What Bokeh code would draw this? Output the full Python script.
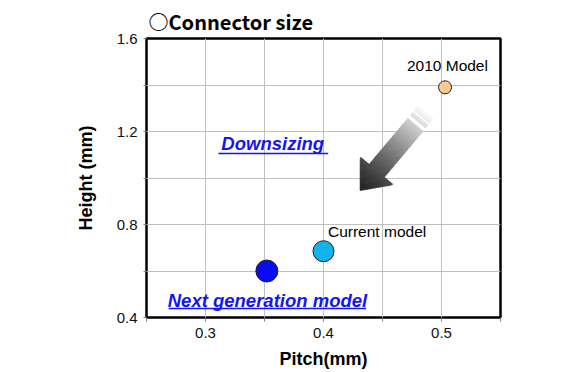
from bokeh.plotting import figure
from bokeh.models import FixedTicker, Title, Label
from bokeh.embed import file_html
from bokeh.resources import INLINE

# ---- data ----
models = ["2010 Model", "Current model", "Next generation model"]
pitch = [0.503, 0.40, 0.352]
height = [1.39, 0.685, 0.60]
marker_sizes = [13, 21, 22]
marker_colors = ["#FFC891", "#12B2EC", "#0A0AF5"]

x_major = [0.3, 0.4, 0.5]
x_minor = [0.25, 0.35, 0.45, 0.55]
y_major = [0.4, 0.8, 1.2, 1.6]
y_minor = [0.6, 1.0, 1.4]

X_RANGE = (0.25, 0.55)
Y_RANGE = (0.4, 1.6)
FW, FH = 354, 279
FONT = "Liberation Sans"

p = figure(frame_width=FW, frame_height=FH, x_range=X_RANGE, y_range=Y_RANGE,
           output_backend="svg", toolbar_location=None,
           min_border_left=146, min_border_right=74,
           min_border_top=38, min_border_bottom=54)
p.background_fill_color = "white"
p.border_fill_color = "white"
p.outline_line_color = "black"
p.outline_line_width = 2.5

for ax, maj, mnr in ((p.xaxis, x_major, x_minor), (p.yaxis, y_major, y_minor)):
    ax.ticker = FixedTicker(ticks=maj, minor_ticks=mnr)
    ax.axis_line_color = None
    ax.major_tick_line_color = "#808080"
    ax.minor_tick_line_color = "#808080"
    ax.major_tick_in = 0
    ax.minor_tick_in = 0
    ax.major_label_text_font = FONT
    ax.major_label_text_font_size = "15px"
    ax.major_label_text_color = "#111111"
    ax.axis_label_text_font = FONT
    ax.axis_label_text_font_size = "18px"
    ax.axis_label_text_font_style = "bold"
    ax.axis_label_text_color = "black"

p.xaxis.major_tick_out = 4
p.xaxis.minor_tick_out = 4
p.yaxis.major_tick_out = 3
p.yaxis.minor_tick_out = 3
p.xaxis.major_label_standoff = 6
p.yaxis.major_label_standoff = 6
p.xaxis.axis_label = "Pitch(mm)"
p.yaxis.axis_label = "Height (mm)"
p.xaxis.axis_label_standoff = 8
p.yaxis.axis_label_standoff = 18

for g in (p.xgrid, p.ygrid):
    g.grid_line_color = "#C0C0C0"
    g.grid_line_width = 1
    g.minor_grid_line_color = "#C0C0C0"
    g.minor_grid_line_width = 1

p.add_layout(Title(text="\u25cbConnector size", align="left", text_font="Noto Sans CJK JP",
                   text_font_size="20px", text_font_style="bold",
                   text_color="black", offset=2, standoff=5), "above")

# ---- arrow (gradient, built from slices) ----
tip = (0.431, 0.946)
sx = FW / (X_RANGE[1] - X_RANGE[0])
sy = FH / (Y_RANGE[1] - Y_RANGE[0])
b = (0.644, -0.765)   # screen direction from tip to tail
n = (0.765, 0.644)
head_len, head_hw, shaft_hw, total = 25.0, 21.0, 10.0, 102.0
gaps = [(87.0, 89.5), (94.0, 96.0)]


def pt(s, t):
    px = s * b[0] + t * n[0]
    py = s * b[1] + t * n[1]
    return tip[0] + px / sx, tip[1] - py / sy


def halfw(s):
    return head_hw * s / head_len if s <= head_len else shaft_hw


def gray(s):
    f = min(max(s / total, 0.0), 1.0)
    g = 0.12 + 0.86 * f ** 1.25
    v = int(round(g * 255))
    return "#%02x%02x%02x" % (v, v, v)


xs, ys, cs = [], [], []
edges = [i * 2.0 for i in range(int(total / 2) + 1)]
for s0, s1 in zip(edges[:-1], edges[1:]):
    mid = 0.5 * (s0 + s1)
    if any(a <= mid <= c for a, c in gaps):
        continue
    w0 = halfw(s0) if s0 < head_len else shaft_hw
    if s1 <= head_len:
        w1 = halfw(s1)
    elif s0 < head_len:
        w1 = head_hw
    else:
        w1 = shaft_hw
    corners = [pt(s0, -w0), pt(s1, -w1), pt(s1, w1), pt(s0, w0)]
    xs.append([c[0] for c in corners])
    ys.append([c[1] for c in corners])
    cs.append(gray(mid))
p.patches(xs, ys, fill_color=cs, line_color=cs, line_width=0.6)

# ---- points ----
p.scatter(pitch, height, size=marker_sizes, fill_color=marker_colors,
          line_color="#222222", line_width=1)

# ---- labels ----
point_labels = [("2010 Model", 0.4707, 1.486), ("Current model", 0.4038, 0.770)]
for txt, lx, ly in point_labels:
    p.add_layout(Label(x=lx, y=ly, text=txt, text_font=FONT, text_font_size="15.5px",
                       text_color="black", text_baseline="middle"))

blue_labels = [("Downsizing", 0.357, 1.148, 0.311, 0.404, 1.105),
               ("Next generation model", 0.3525, 0.473, 0.2688, 0.436, 0.4387)]
for txt, lx, ly, u0, u1, uy in blue_labels:
    p.add_layout(Label(x=lx, y=ly, text=txt, text_font=FONT, text_font_size="18.5px",
                       text_font_style="bold italic", text_color="#1414F5",
                       text_align="center", text_baseline="middle"))
    p.line([u0, u1], [uy, uy], line_color="#1414F5", line_width=1.5)

open("out.html", "w").write(file_html(p, INLINE))
